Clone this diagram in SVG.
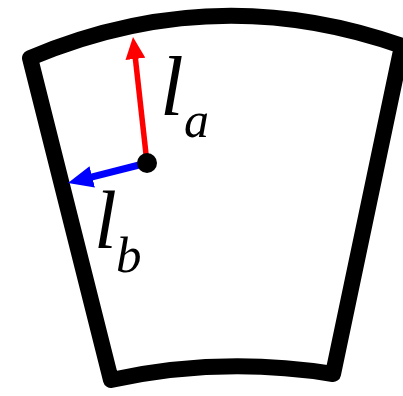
<svg xmlns="http://www.w3.org/2000/svg" width="403" height="396" viewBox="0 0 403 396">
  <style>
    .frame { fill: none; stroke: #000; stroke-width: 16; stroke-linejoin: round; }
    .lbl { font-family: 'Liberation Serif', 'Times New Roman', 'DejaVu Serif', serif; font-style: italic; fill: #000; }
    .red { stroke: #ff0000; stroke-width: 5.5; fill: none; }
    .blue { stroke: #0000ff; stroke-width: 7; fill: none; }
  </style>
  <defs>
    <marker id="headRed" viewBox="0 0 22 20" refX="3" refY="10" markerWidth="22" markerHeight="20" markerUnits="userSpaceOnUse" orient="auto">
      <path d="M0,0 L22,10 L0,20 Z" fill="#ff0000"/>
    </marker>
    <marker id="headBlue" viewBox="0 0 25 22" refX="3" refY="11" markerWidth="25" markerHeight="22" markerUnits="userSpaceOnUse" orient="auto">
      <path d="M0,0 L25,11 L0,22 Z" fill="#0000ff"/>
    </marker>
  </defs>
  <rect width="403" height="396" fill="#fff"/>
  <g id="sector">
    <path class="frame" d="M30,58 Q215,-20 402,46 L333,374 Q221,356 111,380 Z"/>
  </g>
  <g id="connectors">
    <line class="red" x1="147" y1="163" x2="135.1" y2="55.9" marker-end="url(#headRed)"/>
    <line class="blue" x1="147" y1="163" x2="89.3" y2="177.6" marker-end="url(#headBlue)"/>
  </g>
  <g id="origin">
    <circle cx="147" cy="163" r="10" fill="#000"/>
  </g>
  <g id="label-la">
    <text class="lbl" x="160" y="115" font-size="85">l</text>
    <text class="lbl" x="184" y="137" font-size="50">a</text>
  </g>
  <g id="label-lb">
    <text class="lbl" x="94" y="248" font-size="82">l</text>
    <text class="lbl" x="116" y="272" font-size="51">b</text>
  </g>
</svg>
